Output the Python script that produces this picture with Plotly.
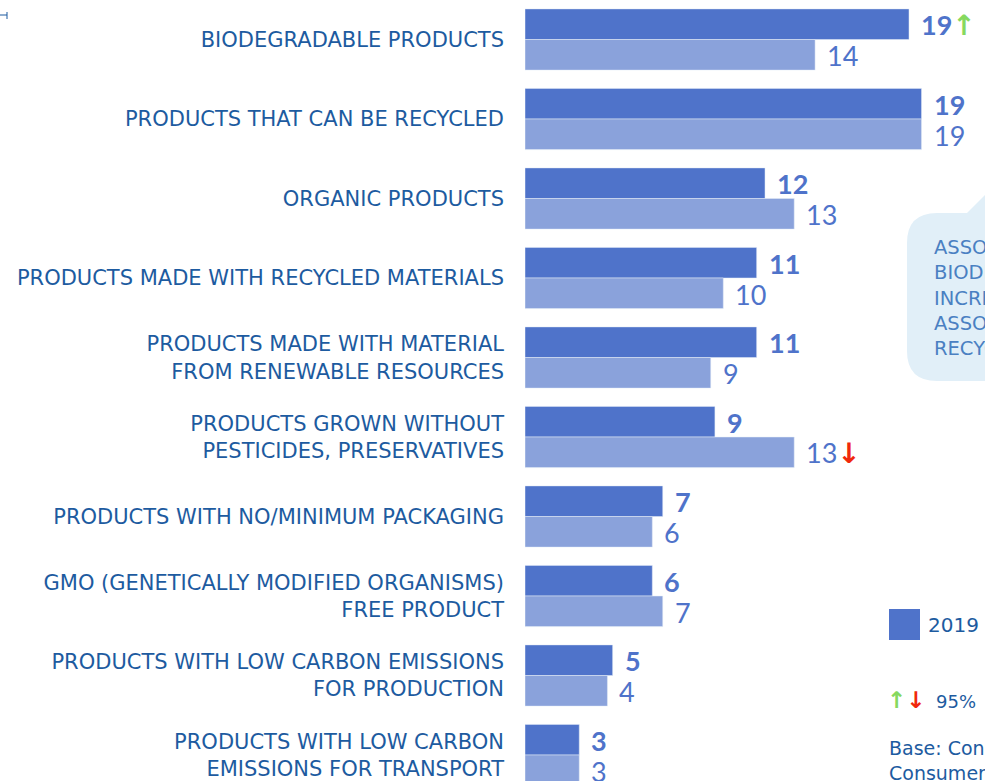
import plotly.graph_objects as go

# ---------------- data ----------------
categories = [
    "BIODEGRADABLE PRODUCTS",
    "PRODUCTS THAT CAN BE RECYCLED",
    "ORGANIC PRODUCTS",
    "PRODUCTS MADE WITH RECYCLED MATERIALS",
    "PRODUCTS MADE WITH MATERIAL<br>FROM RENEWABLE RESOURCES",
    "PRODUCTS GROWN WITHOUT<br>PESTICIDES, PRESERVATIVES",
    "PRODUCTS WITH NO/MINIMUM PACKAGING",
    "GMO (GENETICALLY MODIFIED ORGANISMS)<br>FREE PRODUCT",
    "PRODUCTS WITH LOW CARBON EMISSIONS<br>FOR PRODUCTION",
    "PRODUCTS WITH LOW CARBON<br>EMISSIONS FOR TRANSPORT",
]
values_2019 = [18.4, 19.0, 11.5, 11.1, 11.1, 9.1, 6.6, 6.1, 4.2, 2.6]
values_prev = [13.9, 19.0, 12.9, 9.5, 8.9, 12.9, 6.1, 6.6, 3.95, 2.6]
labels_2019 = ["19", "19", "12", "11", "11", "9", "7", "6", "5", "3"]
labels_prev = ["14", "19", "13", "10", "9", "13", "6", "7", "4", "3"]
arrows_2019 = ["up", "", "", "", "", "", "", "", "", ""]
arrows_prev = ["", "", "", "", "", "down", "", "", "", ""]
legend_label = "2019"

# ---------------- style ----------------
DARK = "#4F73CA"
LIGHT = "#8AA2DB"
TXT = "#1D5BA0"
GREEN = "#86D95F"
RED = "#F0280C"
FONT = "Lato, 'Open Sans', sans-serif"
LABEL_FONT = "'DejaVu Sans', sans-serif"

W, H = 985, 781
L = 525


def px_x(p):
    return (p - L) / (W - L)


def px_y(p):
    return (H - p) / H


ys = list(range(len(categories)))

fig = go.Figure()
fig.add_trace(go.Bar(y=ys, x=values_2019, orientation="h", marker=dict(color=DARK),
                     name=legend_label, hoverinfo="skip"))
fig.add_trace(go.Bar(y=ys, x=values_prev, orientation="h", marker=dict(color=LIGHT),
                     name="prev", hoverinfo="skip"))

ARROW_STYLE = "font-family:DejaVu Sans;font-weight:bold;font-size:28px"
arrow_html = {"up": f"<span style='color:{GREEN};{ARROW_STYLE}'>↑</span>",
              "down": f"<span style='color:{RED};{ARROW_STYLE}'>↓</span>",
              "": ""}
ann = []
for i in ys:
    ann.append(dict(x=values_2019[i], y=i, xref="x", yref="y", xanchor="left", yanchor="middle",
                    xshift=10, yshift=15, showarrow=False,
                    text=f"<b>{labels_2019[i]}</b>" + arrow_html[arrows_2019[i]],
                    font=dict(family=FONT, size=27, color=DARK)))
    ann.append(dict(x=values_prev[i], y=i, xref="x", yref="y", xanchor="left", yanchor="middle",
                    xshift=10, yshift=-16, showarrow=False,
                    text=labels_prev[i] + arrow_html[arrows_prev[i]],
                    font=dict(family=FONT, size=27, color=DARK)))

# callout text
ann.append(dict(x=px_x(932), y=px_y(298), xref="paper", yref="paper", xanchor="left",
                yanchor="middle", align="left", showarrow=False,
                text="ASSOCIATION WITH<br>BIODEGRADABLE<br>INCREASED,<br>ASSOCIATION WITH<br>RECYCLED",
                font=dict(family=LABEL_FONT, size=19.5, color="#4A80C2")))
# legend text
ann.append(dict(x=px_x(926), y=px_y(625), xref="paper", yref="paper", xanchor="left",
                yanchor="middle", showarrow=False, text=legend_label,
                font=dict(family=LABEL_FONT, size=20, color=TXT)))
# significance note
SIG_STYLE = "font-family:DejaVu Sans;font-weight:bold"
ann.append(dict(x=px_x(885), y=px_y(700), xref="paper", yref="paper", xanchor="left",
                yanchor="middle", showarrow=False,
                text=f"<span style='color:{GREEN};{SIG_STYLE}'>↑</span>"
                     f"<span style='color:{RED};{SIG_STYLE}'>↓</span>",
                font=dict(family=LABEL_FONT, size=23, color=TXT)))
ann.append(dict(x=px_x(934), y=px_y(701), xref="paper", yref="paper", xanchor="left",
                yanchor="middle", showarrow=False, text="95%",
                font=dict(family=LABEL_FONT, size=18, color=TXT)))
# base note
ann.append(dict(x=px_x(887), y=px_y(760), xref="paper", yref="paper", xanchor="left",
                yanchor="middle", align="left", showarrow=False,
                text="Base: Con<br>Consumer",
                font=dict(family=LABEL_FONT, size=19, color=TXT)))

shapes = []
# callout bubble
x0, x1, y0, y1, r = 907, 1010, 213, 381, 30
path = (f"M {px_x(x0 + r)},{px_y(y0)} L {px_x(x1)},{px_y(y0)} L {px_x(x1)},{px_y(y1)} "
        f"L {px_x(x0 + r)},{px_y(y1)} Q {px_x(x0)},{px_y(y1)} {px_x(x0)},{px_y(y1 - r)} "
        f"L {px_x(x0)},{px_y(y0 + r)} Q {px_x(x0)},{px_y(y0)} {px_x(x0 + r)},{px_y(y0)} Z")
shapes.append(dict(type="path", xref="paper", yref="paper", path=path,
                   fillcolor="#E1EFF8", line=dict(width=0), layer="below"))
tail = f"M {px_x(966)},{px_y(214)} L {px_x(992)},{px_y(188)} L {px_x(992)},{px_y(214)} Z"
shapes.append(dict(type="path", xref="paper", yref="paper", path=tail,
                   fillcolor="#E1EFF8", line=dict(width=0), layer="below"))
# legend square
shapes.append(dict(type="rect", xref="paper", yref="paper", x0=px_x(889), x1=px_x(920),
                   y0=px_y(640), y1=px_y(609), fillcolor=DARK, line=dict(width=0)))
# top-left tick artifact
shapes.append(dict(type="line", xref="paper", yref="paper", x0=px_x(0), x1=px_x(7),
                   y0=px_y(15), y1=px_y(15), line=dict(color=TXT, width=1)))
shapes.append(dict(type="line", xref="paper", yref="paper", x0=px_x(7), x1=px_x(7),
                   y0=px_y(12), y1=px_y(19), line=dict(color=TXT, width=1)))

fig.update_layout(
    width=W, height=H,
    margin=dict(l=L, r=0, t=0, b=0),
    paper_bgcolor="white", plot_bgcolor="white",
    barmode="group", bargap=0.23, bargroupgap=0,
    showlegend=False,
    annotations=ann, shapes=shapes,
    font=dict(family=FONT, color=TXT),
)
fig.update_xaxes(range=[0, (W - L) / 20.87], visible=False, showgrid=False, zeroline=False)
fig.update_yaxes(range=[9.327, -0.497], tickvals=ys, ticktext=categories, ticks="",
                 showgrid=False, zeroline=False, showline=False, ticklabelstandoff=20,
                 tickfont=dict(family=LABEL_FONT, size=21, color=TXT))

fig.write_html("out.html", config={"displayModeBar": False},
               post_script="document.body.style.margin='0';document.body.style.overflow='hidden';")
